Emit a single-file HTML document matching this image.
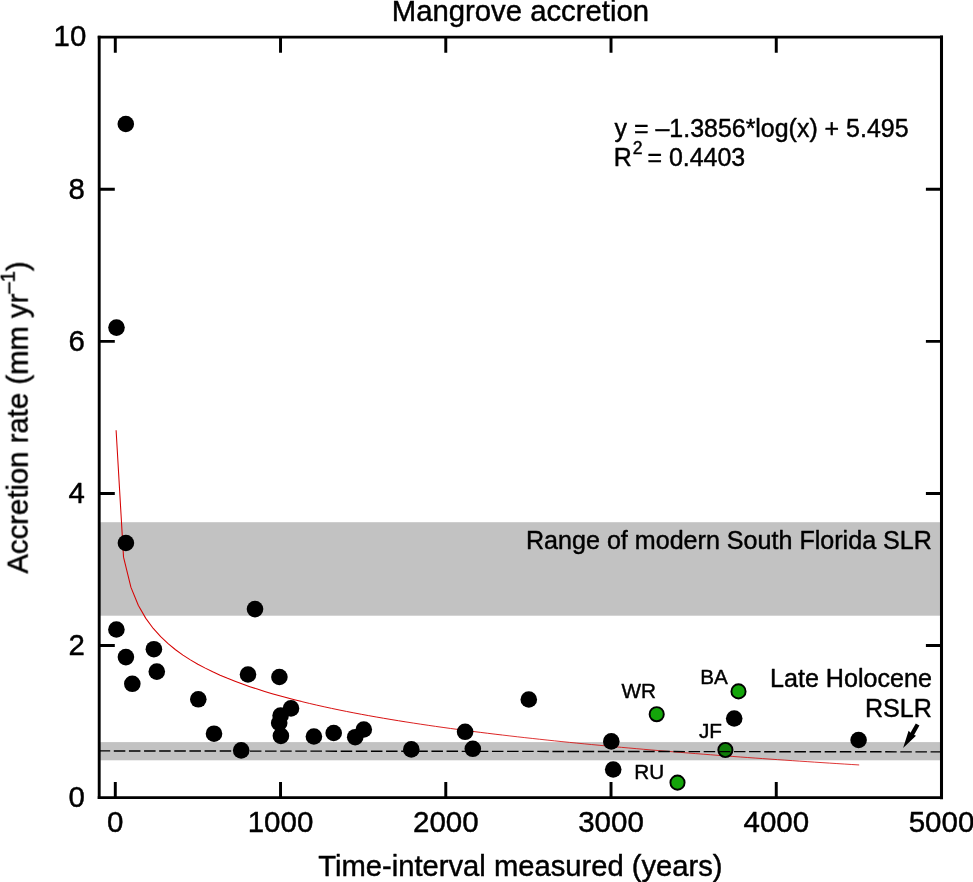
<!DOCTYPE html>
<html><head><meta charset="utf-8"><title>Mangrove accretion</title>
<style>html,body{margin:0;padding:0;background:#fff}svg{display:block}text{font-family:"Liberation Sans",sans-serif;fill:#000;stroke:#000;stroke-width:0.45px;stroke-linejoin:round}</style></head><body>
<svg width="973" height="882" viewBox="0 0 973 882">
<rect width="973" height="882" fill="#fff"/>
<rect x="99.2" y="522.2" width="842.3" height="93.5" fill="#c2c2c2"/>
<rect x="99.2" y="742.1" width="842.3" height="18.2" fill="#c2c2c2"/>
<path d="M116.10 430.28 L123.53 557.14 L130.96 587.40 L138.39 605.46 L145.82 618.38 L153.25 628.44 L160.68 636.69 L168.11 643.67 L175.54 649.72 L182.97 655.07 L190.40 659.86 L197.83 664.20 L205.27 668.15 L212.70 671.80 L220.13 675.17 L227.56 678.32 L234.99 681.26 L242.42 684.02 L249.85 686.63 L257.28 689.09 L264.71 691.43 L272.14 693.66 L279.57 695.78 L287.01 697.81 L294.44 699.75 L301.87 701.61" fill="none" stroke="#d60303" stroke-width="1.05" stroke-linejoin="round"/>
<path d="M301.87 701.61 L309.30 703.40 L316.73 705.12 L324.16 706.78 L331.59 708.39 L339.02 709.93 L346.45 711.43 L353.88 712.88 L361.31 714.29 L368.74 715.65 L376.18 716.97 L383.61 718.26 L391.04 719.51 L398.47 720.73 L405.90 721.92" fill="none" stroke="#d60303" stroke-width="0.95" stroke-linejoin="round"/>
<path d="M405.90 721.92 L413.33 723.07 L420.76 724.20 L428.19 725.30 L435.62 726.38 L443.05 727.43 L450.48 728.46 L457.91 729.46 L465.35 730.44 L472.78 731.41 L480.21 732.35 L487.64 733.27 L495.07 734.18 L502.50 735.06" fill="none" stroke="#d60303" stroke-width="0.88" stroke-linejoin="round"/>
<path d="M502.50 735.06 L509.93 735.93 L517.36 736.79 L524.79 737.63 L532.22 738.45 L539.65 739.26 L547.08 740.06 L554.52 740.84 L561.95 741.61 L569.38 742.36 L576.81 743.10 L584.24 743.84 L591.67 744.56 L599.10 745.26 L606.53 745.96 L613.96 746.65 L621.39 747.33 L628.82 747.99 L636.25 748.65 L643.69 749.30 L651.12 749.94 L658.55 750.57 L665.98 751.19 L673.41 751.81 L680.84 752.41 L688.27 753.01 L695.70 753.60 L703.13 754.18 L710.56 754.76 L717.99 755.33 L725.42 755.89 L732.86 756.44 L740.29 756.99 L747.72 757.53 L755.15 758.06 L762.58 758.59 L770.01 759.12 L777.44 759.63 L784.87 760.14 L792.30 760.65 L799.73 761.15 L807.16 761.64 L814.59 762.13 L822.03 762.62 L829.46 763.10 L836.89 763.57 L844.32 764.04 L851.75 764.50 L859.18 764.96" fill="none" stroke="#d60303" stroke-width="0.80" stroke-linejoin="round"/>
<circle cx="125.8" cy="124.0" r="8.3"/>
<circle cx="116.5" cy="327.6" r="8.3"/>
<circle cx="125.9" cy="543.0" r="8.3"/>
<circle cx="116.4" cy="629.5" r="8.3"/>
<circle cx="125.9" cy="657.1" r="8.3"/>
<circle cx="153.9" cy="649.2" r="8.3"/>
<circle cx="156.8" cy="671.6" r="8.3"/>
<circle cx="132.3" cy="683.8" r="8.3"/>
<circle cx="198.3" cy="699.3" r="8.3"/>
<circle cx="248.0" cy="674.5" r="8.3"/>
<circle cx="255.0" cy="609.1" r="8.3"/>
<circle cx="279.4" cy="677.0" r="8.3"/>
<circle cx="214.0" cy="733.7" r="8.3"/>
<circle cx="241.2" cy="750.4" r="8.3"/>
<circle cx="291.0" cy="708.4" r="8.3"/>
<circle cx="280.6" cy="715.5" r="8.3"/>
<circle cx="279.2" cy="723.0" r="8.3"/>
<circle cx="280.9" cy="735.9" r="8.3"/>
<circle cx="313.9" cy="736.5" r="8.3"/>
<circle cx="333.7" cy="733.0" r="8.3"/>
<circle cx="355.2" cy="737.2" r="8.3"/>
<circle cx="363.8" cy="729.5" r="8.3"/>
<circle cx="411.3" cy="749.4" r="8.3"/>
<circle cx="465.1" cy="731.8" r="8.3"/>
<circle cx="472.8" cy="748.8" r="8.3"/>
<circle cx="528.8" cy="699.5" r="8.3"/>
<circle cx="611.3" cy="741.4" r="8.3"/>
<circle cx="613.2" cy="769.5" r="8.3"/>
<circle cx="734.2" cy="718.5" r="8.3"/>
<circle cx="858.6" cy="740.0" r="8.3"/>
<circle cx="656.7" cy="714.2" r="7.1" fill="#14a50a" stroke="#000" stroke-width="1.9"/>
<circle cx="738.5" cy="691.4" r="7.1" fill="#14a50a" stroke="#000" stroke-width="1.9"/>
<circle cx="725.4" cy="750.0" r="7.1" fill="#0f7d08" stroke="#000" stroke-width="1.9"/>
<circle cx="677.5" cy="782.6" r="7.1" fill="#14a50a" stroke="#000" stroke-width="1.9"/>
<line x1="98.69" y1="750.91" x2="941.5" y2="751.88" stroke="#000" stroke-width="1.4" stroke-dasharray="11.5 3.625"/>
<path d="M99.20 37.10 H941.50 M99.20 797.65 H941.50" stroke="#000" stroke-width="2.9" stroke-linecap="square" fill="none"/>
<path d="M99.20 37.10 V797.65" stroke="#000" stroke-width="2.9" stroke-linecap="square" fill="none"/>
<path d="M941.50 37.10 V797.65" stroke="#000" stroke-width="3.05" stroke-linecap="square" fill="none"/>
<path d="M115.30 797.65 V782.10 M115.30 37.10 V52.65 M280.54 797.65 V782.10 M280.54 37.10 V52.65 M445.78 797.65 V782.10 M445.78 37.10 V52.65 M611.02 797.65 V782.10 M611.02 37.10 V52.65 M776.26 797.65 V782.10 M776.26 37.10 V52.65 M99.20 645.55 H114.80 M941.50 645.55 H925.90 M99.20 493.45 H114.80 M941.50 493.45 H925.90 M99.20 341.35 H114.80 M941.50 341.35 H925.90 M99.20 189.25 H114.80 M941.50 189.25 H925.90" stroke="#000" stroke-width="2.95" fill="none"/>
<g style="mix-blend-mode:multiply">
<text x="115.3" y="832.3" font-size="29.5" text-anchor="middle">0</text>
<text x="280.5" y="832.3" font-size="29.5" text-anchor="middle">1000</text>
<text x="445.8" y="832.3" font-size="29.5" text-anchor="middle">2000</text>
<text x="611.0" y="832.3" font-size="29.5" text-anchor="middle">3000</text>
<text x="776.3" y="832.3" font-size="29.5" text-anchor="middle">4000</text>
<text x="941.5" y="832.3" font-size="29.5" text-anchor="middle">5000</text>
<text x="84.9" y="806.9" font-size="29.4" text-anchor="end">0</text>
<text x="84.9" y="654.8" font-size="29.4" text-anchor="end">2</text>
<text x="84.9" y="502.8" font-size="29.4" text-anchor="end">4</text>
<text x="84.9" y="350.7" font-size="29.4" text-anchor="end">6</text>
<text x="84.9" y="198.6" font-size="29.4" text-anchor="end">8</text>
<text x="86.3" y="46.4" font-size="29.4" text-anchor="end">10</text>
<text x="520.4" y="20.5" font-size="29.3" text-anchor="middle">Mangrove accretion</text>
<text x="520.4" y="875.5" font-size="29.2" text-anchor="middle">Time-interval measured (years)</text>
<text transform="translate(27.7 573.6) rotate(-90)" font-size="29.3">Accretion rate (mm yr<tspan font-size="20.3" dy="-13">–1</tspan><tspan dy="13">)</tspan></text>
<text x="614.6" y="136.7" font-size="24.95">y = –1.3856*log(x) + 5.495</text>
<text x="613.8" y="165.8" font-size="24.95">R<tspan font-size="17.6" x="632.7" y="154.0">2</tspan><tspan x="647.45" y="165.8">= 0.4403</tspan></text>
<text x="931.9" y="549" font-size="25.1" text-anchor="end">Range of modern South Florida SLR</text>
<text x="931.9" y="687.3" font-size="25.1" text-anchor="end">Late Holocene</text>
<text x="931.9" y="717.1" font-size="25.1" text-anchor="end">RSLR</text>
<text x="621.5" y="697.7" font-size="20.7">WR</text>
<text x="700.2" y="683.9" font-size="20.7">BA</text>
<text x="699.0" y="737.7" font-size="20.7">JF</text>
<text x="634.3" y="778.6" font-size="20.7">RU</text>
</g>
<path d="M917.6 724.5 L911.8 734.8" stroke="#000" stroke-width="4.2" fill="none"/>
<path d="M903.1 747.9 L908.6 730.8 L912.0 734.0 L916.0 735.7 Z" fill="#000"/>
</svg></body></html>
